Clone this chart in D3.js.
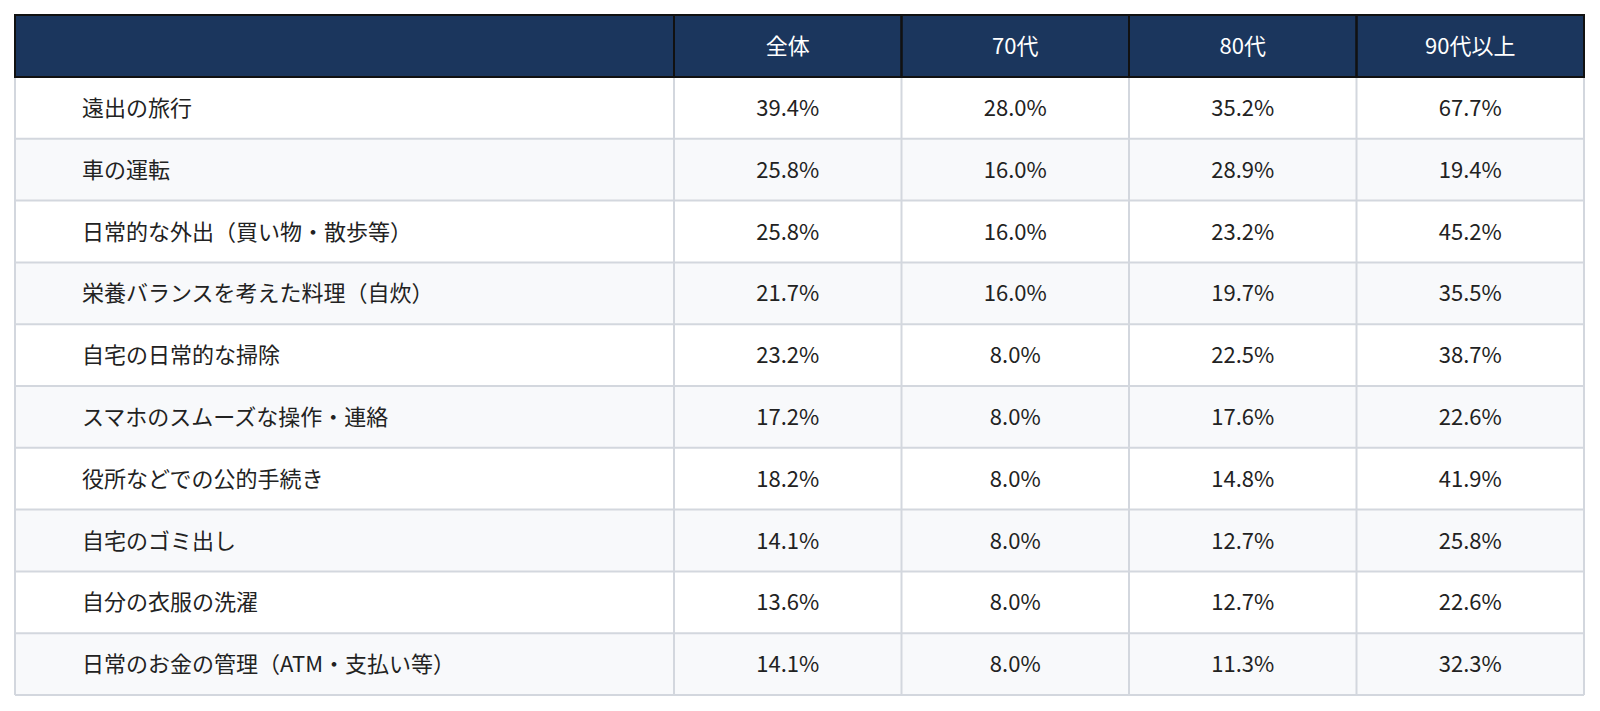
<!DOCTYPE html>
<html><head><meta charset="utf-8">
<script src="https://cdn.jsdelivr.net/npm/d3@7/dist/d3.min.js"></script>
<style>
html,body{margin:0;padding:0;background:#fff;}
svg{display:block;font-family:"Noto Sans CJK JP","Noto Sans",sans-serif;}
</style></head><body>
<svg id="chart" width="1600" height="711"></svg>
<script>
const columns = ["全体", "70代", "80代", "90代以上"];
const categories = [
  "遠出の旅行",
  "車の運転",
  "日常的な外出（買い物・散歩等）",
  "栄養バランスを考えた料理（自炊）",
  "自宅の日常的な掃除",
  "スマホのスムーズな操作・連絡",
  "役所などでの公的手続き",
  "自宅のゴミ出し",
  "自分の衣服の洗濯",
  "日常のお金の管理（ATM・支払い等）"
];
const total   = [39.4, 25.8, 25.8, 21.7, 23.2, 17.2, 18.2, 14.1, 13.6, 14.1];
const age70s  = [28.0, 16.0, 16.0, 16.0, 8.0, 8.0, 8.0, 8.0, 8.0, 8.0];
const age80s  = [35.2, 28.9, 23.2, 19.7, 22.5, 17.6, 14.8, 12.7, 12.7, 11.3];
const age90s  = [67.7, 19.4, 45.2, 35.5, 38.7, 22.6, 41.9, 25.8, 22.6, 32.3];

const series = [total, age70s, age80s, age90s];
const rows = categories.map((c, i) => ({label: c, values: series.map(s => s[i])}));

const svg = d3.select("#chart");
const L = 15, R = 1584, T = 15, headerH = 62, B = 695, labelColRight = 674;

const x = d3.scaleBand().domain(columns).range([labelColRight, R]);
const y = d3.scaleBand().domain(d3.range(categories.length)).range([T + headerH, B]);

// Body
const body = svg.append("g");
const rg = body.selectAll("g.row").data(rows).join("g").attr("class", "row");
rg.append("rect").attr("x", L).attr("y", (d, i) => y(i)).attr("width", R - L).attr("height", y.bandwidth())
  .attr("fill", (d, i) => i % 2 ? "#f8f9fb" : "#fff");
rg.append("text").attr("x", L + 67).attr("y", (d, i) => y(i) + y.bandwidth() / 2 + 8)
  .attr("fill", "#222").attr("font-size", 22).text(d => d.label);
rg.each(function(d, i) {
  d3.select(this).selectAll("text.v").data(d.values).join("text").attr("class", "v")
    .attr("x", (v, j) => x(columns[j]) + x.bandwidth() / 2).attr("y", y(i) + y.bandwidth() / 2 + 8)
    .attr("text-anchor", "middle").attr("fill", "#222").attr("font-size", 22)
    .text(v => v.toFixed(1) + "%");
});

// Grid lines
const grid = svg.append("g").attr("stroke", "#d3d7de").attr("stroke-width", 2);
grid.selectAll("line.h").data(d3.range(1, categories.length + 1)).join("line").attr("class", "h")
  .attr("x1", L).attr("x2", R)
  .attr("y1", i => i < categories.length ? y(i) : B).attr("y2", i => i < categories.length ? y(i) : B);
grid.selectAll("line.v").data([L, labelColRight, ...columns.slice(1).map(c => x(c)), R]).join("line").attr("class", "v")
  .attr("x1", d => d).attr("x2", d => d).attr("y1", T + headerH).attr("y2", B);

// Header
const header = svg.append("g");
header.append("rect").attr("x", L).attr("y", T).attr("width", R - L).attr("height", headerH)
  .attr("fill", "#1b365d").attr("stroke", "#111").attr("stroke-width", 2);
header.append("rect").attr("x", L).attr("y", T).attr("width", labelColRight - L).attr("height", headerH)
  .attr("fill", "none").attr("stroke", "#111").attr("stroke-width", 2);
header.selectAll("rect.hc").data(columns).join("rect").attr("class", "hc")
  .attr("x", d => x(d)).attr("y", T).attr("width", x.bandwidth()).attr("height", headerH)
  .attr("fill", "none").attr("stroke", "#111").attr("stroke-width", 2);
header.selectAll("text").data(columns).join("text")
  .attr("x", d => x(d) + x.bandwidth() / 2).attr("y", T + headerH / 2 + 8)
  .attr("text-anchor", "middle").attr("fill", "#fff").attr("font-size", 22).text(d => d);
</script>
</body></html>
